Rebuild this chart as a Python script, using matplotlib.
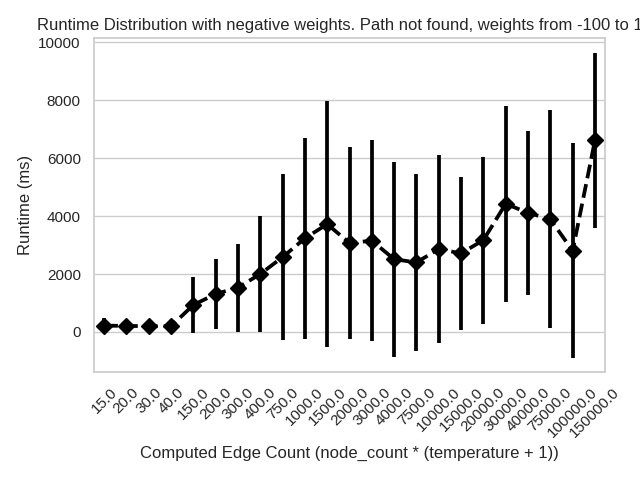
import matplotlib
matplotlib.use("Agg")
import matplotlib.pyplot as plt
import seaborn as sns
import numpy as np

categories = ["15.0", "20.0", "30.0", "40.0", "150.0", "200.0", "300.0", "400.0",
              "750.0", "1000.0", "1500.0", "2000.0", "3000.0", "4000.0", "7500.0",
              "10000.0", "15000.0", "20000.0", "30000.0", "40000.0", "75000.0",
              "100000.0", "150000.0"]
means = [220, 210, 200, 200, 930, 1310, 1530, 2000, 2580, 3230, 3720, 3070,
         3150, 2510, 2400, 2860, 2710, 3170, 4420, 4110, 3890, 2800, 6610]
sds = [250, 180, 150, 150, 960, 1200, 1520, 1990, 2870, 3460, 4230, 3320,
       3460, 3370, 3050, 3240, 2630, 2880, 3370, 2830, 3750, 3710, 3020]

title = "Runtime Distribution with negative weights. Path not found, weights from -100 to 100"
xlabel = "Computed Edge Count (node_count * (temperature + 1))"
ylabel = "Runtime (ms)"

sns.set_theme(style="whitegrid")
plt.rcParams["font.family"] = ["Liberation Sans", "DejaVu Sans"]

fig = plt.figure(figsize=(6.4, 4.8), dpi=100)
ax = fig.add_subplot(111)
fig.subplots_adjust(left=94/640, right=605/640, top=1-38/480, bottom=1-372/480)

x = np.arange(len(categories))
ax.vlines(x, np.array(means) - np.array(sds), np.array(means) + np.array(sds),
          color="black", lw=2.7, zorder=2)
ax.plot(x, means, color="black", lw=2.7, linestyle="--", marker="D",
        markersize=8.5, zorder=3)

ax.set_xticks(x)
ax.set_xticklabels(categories, rotation=45)
ax.set_xlim(-0.45, len(categories) - 0.55)
ax.set_ylim(-1380, 10140)
ax.set_yticks([0, 2000, 4000, 6000, 8000, 10000])
ax.xaxis.grid(False)
ax.set_title(title, fontsize=12)
ax.set_xlabel(xlabel, fontsize=12)
ax.set_ylabel(ylabel, fontsize=12)
ax.tick_params(labelsize=11)

fig.savefig("out.png", dpi=100)
